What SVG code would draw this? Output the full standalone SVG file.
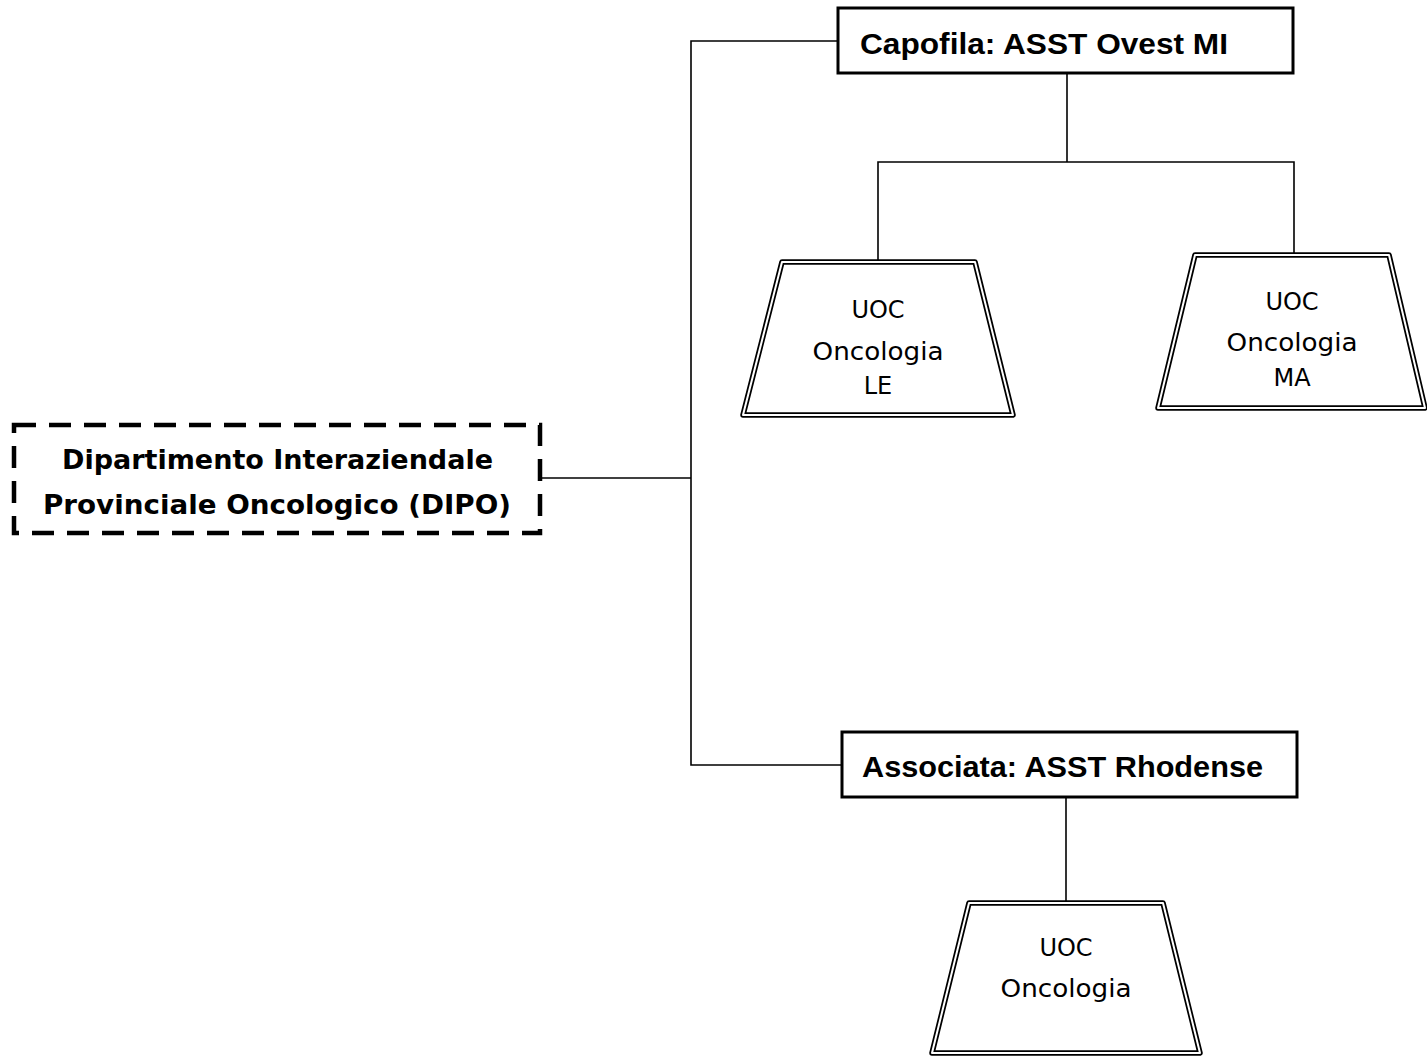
<svg xmlns="http://www.w3.org/2000/svg" width="1427" height="1057" viewBox="0 0 1427 1057">
<style>
.conn{stroke:#000;stroke-width:1.6;fill:none}
.box{fill:#fff;stroke:#000;stroke-width:3}
.dash{fill:#fff;stroke:#000;stroke-width:4.5;stroke-dasharray:22 13}
.trapO{fill:#fff;stroke:#000;stroke-width:5.5;stroke-linejoin:round}
.trapI{fill:none;stroke:#fff;stroke-width:2;stroke-linejoin:round}
.hb{font-family:"Liberation Sans",Arial,sans-serif;font-weight:bold;font-size:29px;fill:#000}
.gb{font-family:"DejaVu Sans","Liberation Sans",sans-serif;font-weight:bold;font-size:26px;fill:#000}
.gt{font-family:"DejaVu Sans","Liberation Sans",sans-serif;font-size:24px;fill:#000;text-anchor:middle}
</style>
<rect width="1427" height="1057" fill="#fff"/>
<g id="connectors">
<polyline class="conn" points="838,41 691,41 691,765 842,765"/>
<line class="conn" x1="540" y1="478" x2="691" y2="478"/>
<line class="conn" x1="1067" y1="73" x2="1067" y2="162"/>
<polyline class="conn" points="878,262 878,162 1294,162 1294,255"/>
<line class="conn" x1="1066" y1="797" x2="1066" y2="903"/>
</g>
<g id="dipo">
<rect class="dash" x="14" y="425" width="526" height="108"/>
<text class="gb" x="62" y="469" textLength="431" lengthAdjust="spacingAndGlyphs">Dipartimento Interaziendale</text>
<text class="gb" x="43" y="514" textLength="468" lengthAdjust="spacingAndGlyphs">Provinciale Oncologico (DIPO)</text>
</g>
<g id="capofila">
<rect class="box" x="838" y="8" width="455" height="65"/>
<text class="hb" x="860" y="54" textLength="368" lengthAdjust="spacingAndGlyphs">Capofila: ASST Ovest MI</text>
</g>
<g id="associata">
<rect class="box" x="842" y="732" width="455" height="65"/>
<text class="hb" x="862" y="777" textLength="401" lengthAdjust="spacingAndGlyphs">Associata: ASST Rhodense</text>
</g>
<g id="uoc-le">
<polygon class="trapO" points="782,262 975,262 1013,415 743,415"/>
<polygon class="trapI" points="782,262 975,262 1013,415 743,415"/>
<text class="gt" x="878" y="318">UOC</text>
<text class="gt" x="878" y="360" textLength="131" lengthAdjust="spacingAndGlyphs">Oncologia</text>
<text class="gt" x="878" y="394">LE</text>
</g>
<g id="uoc-ma">
<polygon class="trapO" points="1195,255 1389,255 1425,408 1158,408"/>
<polygon class="trapI" points="1195,255 1389,255 1425,408 1158,408"/>
<text class="gt" x="1292" y="310">UOC</text>
<text class="gt" x="1292" y="351" textLength="131" lengthAdjust="spacingAndGlyphs">Oncologia</text>
<text class="gt" x="1292" y="386">MA</text>
</g>
<g id="uoc-rho">
<polygon class="trapO" points="969,903 1163,903 1200,1053 932,1053"/>
<polygon class="trapI" points="969,903 1163,903 1200,1053 932,1053"/>
<text class="gt" x="1066" y="956">UOC</text>
<text class="gt" x="1066" y="997" textLength="131" lengthAdjust="spacingAndGlyphs">Oncologia</text>
</g>
</svg>
